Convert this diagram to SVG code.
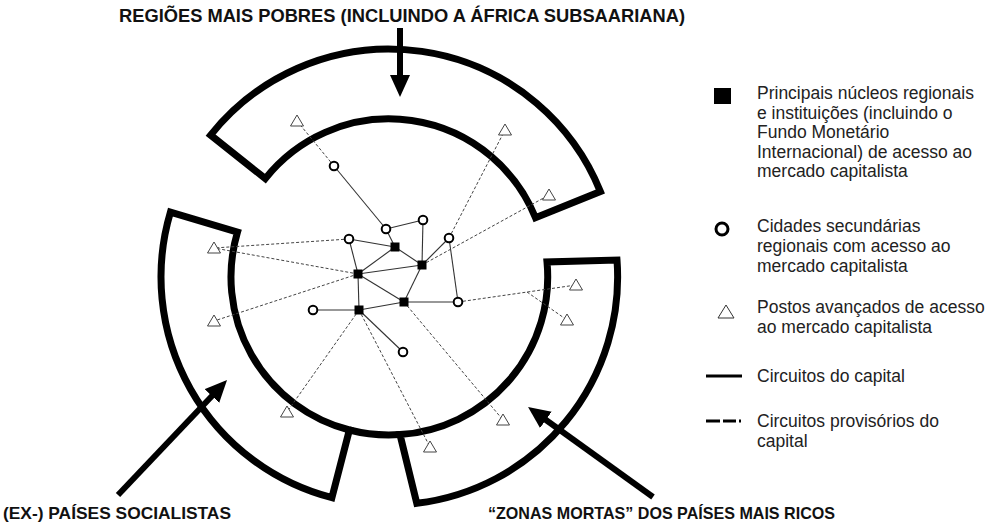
<svg xmlns="http://www.w3.org/2000/svg" width="989" height="523" viewBox="0 0 989 523">
<style>
.band{fill:none;stroke:#000;stroke-width:7;stroke-linejoin:miter}
.arrow{stroke:#000;stroke-width:6;fill:none}
.solid{stroke:#333;stroke-width:1.1;fill:none}
.dash{stroke:#444;stroke-width:1;stroke-dasharray:3 2;fill:none}
.sq{fill:#000}
.ci{fill:#fff;stroke:#000;stroke-width:2}
.tri{fill:#fff;stroke:#444;stroke-width:1}
.head{font-family:"Liberation Sans",Arial,sans-serif;font-weight:bold;font-size:18px;fill:#111}
.leg{font-family:"Liberation Sans",Arial,sans-serif;font-size:17.5px;fill:#222}
</style>
<defs>
<marker id="ah" markerUnits="userSpaceOnUse" markerWidth="24" markerHeight="22" refX="8" refY="10" orient="auto">
<path d="M0,0 L22,10 L0,20 Z" fill="#000"/>
</marker>
<path id="tri" d="M0,-6 L6.5,5 L-6.5,5 Z"/>
</defs>
<rect width="989" height="523" fill="#fff"/>

<text class="head" x="402" y="22" text-anchor="middle" textLength="566" lengthAdjust="spacingAndGlyphs">REGIÕES MAIS POBRES (INCLUINDO A ÁFRICA SUBSAARIANA)</text>
<text class="head" x="3" y="519" style="font-size:17px" textLength="228" lengthAdjust="spacingAndGlyphs">(EX-) PAÍSES SOCIALISTAS</text>
<text class="head" x="488" y="519" style="font-size:17px" textLength="347" lengthAdjust="spacingAndGlyphs">“ZONAS MORTAS” DOS PAÍSES MAIS RICOS</text>

<g id="regions">
<path id="band-top" class="band" d="M210.6,135.1 A228,228 0 0 1 600.4,191.6 L535.5,217.8 A158,158 0 0 0 265.3,178.6 Z"/>
<path id="band-left" class="band" d="M170.4,212.2 A228,228 0 0 0 331.9,497.7 L349.4,430 A158,158 0 0 1 237.5,232.1 Z"/>
<path id="band-right" class="band" d="M617,260 A228,228 0 0 1 416.8,503.3 L400,434.6 A158,158 0 0 0 547,262 Z"/>
<path id="inner-gap" class="band" d="M349.4,430 A158,158 0 0 0 400,434.6"/>
</g>

<g id="arrows">
<line class="arrow" x1="400" y1="28" x2="400" y2="83" marker-end="url(#ah)"/>
<line class="arrow" x1="118" y1="495" x2="217.4" y2="390.2" marker-end="url(#ah)"/>
<line class="arrow" x1="653" y1="497" x2="539.4" y2="415.2" marker-end="url(#ah)"/>
</g>

<g id="connectors">
<line class="solid" x1="386" y1="229" x2="423" y2="220"/>
<line class="solid" x1="386" y1="229" x2="395" y2="247"/>
<line class="solid" x1="423" y1="220" x2="422" y2="265"/>
<line class="solid" x1="349" y1="239" x2="395" y2="247"/>
<line class="solid" x1="349" y1="239" x2="358" y2="274"/>
<line class="solid" x1="395" y1="247" x2="358" y2="274"/>
<line class="solid" x1="395" y1="247" x2="422" y2="265"/>
<line class="solid" x1="358" y1="274" x2="422" y2="265"/>
<line class="solid" x1="358" y1="274" x2="404" y2="302"/>
<line class="solid" x1="358" y1="274" x2="359" y2="310"/>
<line class="solid" x1="422" y1="265" x2="404" y2="302"/>
<line class="solid" x1="404" y1="302" x2="359" y2="310"/>
<line class="solid" x1="404" y1="302" x2="458" y2="302"/>
<line class="solid" x1="449" y1="238" x2="422" y2="265"/>
<line class="solid" x1="449" y1="238" x2="458" y2="302"/>
<line class="solid" x1="313" y1="310" x2="359" y2="310"/>
<line class="solid" x1="359" y1="310" x2="403" y2="352"/>
<line class="solid" x1="334" y1="166" x2="386" y2="229"/>
<line class="dash" x1="297" y1="121" x2="334" y2="166"/>
<line class="dash" x1="449" y1="238" x2="505" y2="130"/>
<line class="dash" x1="422" y1="265" x2="549" y2="195"/>
<line class="dash" x1="349" y1="239" x2="214" y2="248"/>
<line class="dash" x1="358" y1="274" x2="214" y2="248"/>
<line class="dash" x1="358" y1="274" x2="214" y2="321"/>
<line class="dash" x1="359" y1="310" x2="287" y2="412"/>
<line class="dash" x1="359" y1="310" x2="430" y2="447"/>
<line class="dash" x1="404" y1="302" x2="503" y2="420"/>
<line class="dash" x1="458" y1="302" x2="576" y2="285"/>
<line class="dash" x1="527" y1="292" x2="567" y2="320"/>
</g>

<g id="hubs">
<rect id="s1" class="sq" x="390.5" y="242.5" width="9" height="9"/>
<rect id="s2" class="sq" x="417.5" y="260.5" width="9" height="9"/>
<rect id="s3" class="sq" x="353.5" y="269.5" width="9" height="9"/>
<rect id="s4" class="sq" x="399.5" y="297.5" width="9" height="9"/>
<rect id="s5" class="sq" x="354.5" y="305.5" width="9" height="9"/>
</g>
<g id="cities">
<circle id="c1" class="ci" cx="386" cy="229" r="4.3"/>
<circle id="c2" class="ci" cx="423" cy="220" r="4.3"/>
<circle id="c3" class="ci" cx="349" cy="239" r="4.3"/>
<circle id="c4" class="ci" cx="449" cy="238" r="4.3"/>
<circle id="c5" class="ci" cx="458" cy="302" r="4.3"/>
<circle id="c6" class="ci" cx="313" cy="310" r="4.3"/>
<circle id="c7" class="ci" cx="403" cy="352" r="4.3"/>
<circle id="c8" class="ci" cx="334" cy="166" r="4.3"/>
</g>
<g id="outposts">
<use id="t1" class="tri" href="#tri" x="297" y="121"/>
<use id="t2" class="tri" href="#tri" x="505" y="130"/>
<use id="t3" class="tri" href="#tri" x="549" y="195"/>
<use id="t4" class="tri" href="#tri" x="214" y="248"/>
<use id="t5" class="tri" href="#tri" x="214" y="321"/>
<use id="t6" class="tri" href="#tri" x="287" y="412"/>
<use id="t7" class="tri" href="#tri" x="430" y="447"/>
<use id="t8" class="tri" href="#tri" x="503" y="420"/>
<use id="t9" class="tri" href="#tri" x="576" y="285"/>
<use id="t10" class="tri" href="#tri" x="567" y="320"/>
</g>

<g id="legend">
<g id="leg-hub">
<rect x="714" y="88" width="17" height="16" fill="#000"/>
<text class="leg" x="757"><tspan x="757" y="99">Principais núcleos regionais</tspan><tspan x="757" y="118.5">e instituições (incluindo o</tspan><tspan x="757" y="138">Fundo Monetário</tspan><tspan x="757" y="157.5">Internacional) de acesso ao</tspan><tspan x="757" y="177">mercado capitalista</tspan></text>
</g>
<g id="leg-city">
<circle cx="722" cy="229" r="6" fill="#fff" stroke="#000" stroke-width="3"/>
<text class="leg"><tspan x="757" y="232">Cidades secundárias</tspan><tspan x="757" y="252">regionais com acesso ao</tspan><tspan x="757" y="272">mercado capitalista</tspan></text>
</g>
<g id="leg-outpost">
<path d="M726,305 L734,318 L718,318 Z" fill="#fff" stroke="#333" stroke-width="1"/>
<text class="leg"><tspan x="757" y="313">Postos avançados de acesso</tspan><tspan x="757" y="333">ao mercado capitalista</tspan></text>
</g>
<g id="leg-circuit">
<line x1="706" y1="376" x2="742" y2="376" stroke="#000" stroke-width="3"/>
<text class="leg" x="757" y="382">Circuitos do capital</text>
</g>
<g id="leg-prov">
<path d="M706,421 H720 M723,421 H736 M739,421 H741" stroke="#000" stroke-width="3"/>
<text class="leg"><tspan x="757" y="427">Circuitos provisórios do</tspan><tspan x="757" y="447">capital</tspan></text>
</g>
</g>
</svg>
